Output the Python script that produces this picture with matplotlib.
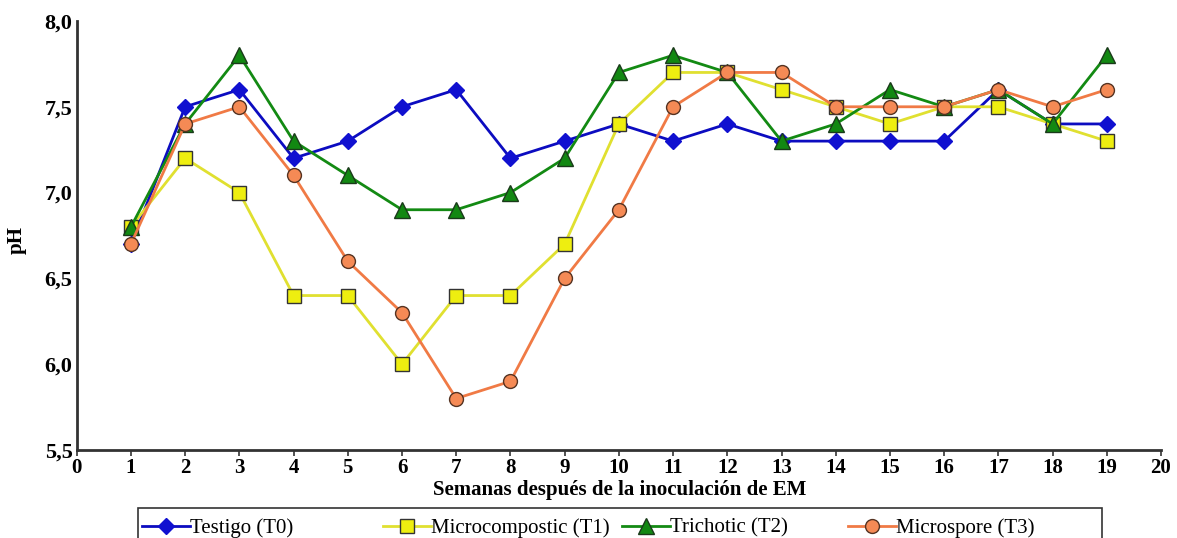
import matplotlib.pyplot as plt
from matplotlib.patches import Rectangle
from matplotlib.ticker import FuncFormatter

weeks = list(range(1, 20))

testigo = [6.7, 7.5, 7.6, 7.2, 7.3, 7.5, 7.6, 7.2, 7.3, 7.4, 7.3, 7.4, 7.3, 7.3, 7.3, 7.3, 7.6, 7.4, 7.4]
microcompostic = [6.8, 7.2, 7.0, 6.4, 6.4, 6.0, 6.4, 6.4, 6.7, 7.4, 7.7, 7.7, 7.6, 7.5, 7.4, 7.5, 7.5, 7.4, 7.3]
trichotic = [6.8, 7.4, 7.8, 7.3, 7.1, 6.9, 6.9, 7.0, 7.2, 7.7, 7.8, 7.7, 7.3, 7.4, 7.6, 7.5, 7.6, 7.4, 7.8]
microspore = [6.7, 7.4, 7.5, 7.1, 6.6, 6.3, 5.8, 5.9, 6.5, 6.9, 7.5, 7.7, 7.7, 7.5, 7.5, 7.5, 7.6, 7.5, 7.6]

labels = ["Testigo (T0)", "Microcompostic (T1)", "Trichotic (T2)", "Microspore (T3)"]

plt.rcParams["font.family"] = ["Liberation Serif", "DejaVu Serif"]

fig = plt.figure(figsize=(11.77, 5.38), dpi=100)
ax = fig.add_axes([0.0652, 0.1636, 0.9212, 0.7974])

l0, = ax.plot(weeks, testigo, color="#0c0cc0", linewidth=2, marker="D",
              markersize=8.5, markerfacecolor="#1010d0", markeredgecolor="#1010d0",
              label=labels[0])
l1, = ax.plot(weeks, microcompostic, color="#e0e030", linewidth=2, marker="s",
              markersize=10, markerfacecolor="#eeee10", markeredgecolor="#333333",
              markeredgewidth=1, label=labels[1])
l2, = ax.plot(weeks, trichotic, color="#138a13", linewidth=2, marker="^",
              markersize=11, markerfacecolor="#128812", markeredgecolor="#1a3a1a",
              markeredgewidth=1, label=labels[2])
l3, = ax.plot(weeks, microspore, color="#f07a45", linewidth=2, marker="o",
              markersize=10, markerfacecolor="#f58a55", markeredgecolor="#553322",
              markeredgewidth=1, label=labels[3])

ax.set_xlim(0, 20)
ax.set_ylim(5.5, 8.0)
ax.set_xticks(range(0, 21))
ax.set_yticks([5.5, 6.0, 6.5, 7.0, 7.5, 8.0])
ax.yaxis.set_major_formatter(FuncFormatter(lambda v, p: f"{v:.1f}".replace(".", ",")))

for s in ["top", "right"]:
    ax.spines[s].set_visible(False)
for s in ["left", "bottom"]:
    ax.spines[s].set_color("#333333")
    ax.spines[s].set_linewidth(2)

ax.tick_params(axis="x", length=4, width=1.2, color="#333333", pad=1.5, labelsize=15)
ax.tick_params(axis="y", length=0, pad=3, labelsize=16)
for t in ax.get_xticklabels() + ax.get_yticklabels():
    t.set_fontweight("bold")

ax.set_xlabel("Semanas después de la inoculación de EM", fontsize=15,
              fontweight="bold", va="center")
ax.xaxis.set_label_coords(0.501, -0.094)
ax.set_ylabel("pH", fontsize=15, fontweight="bold")
ax.yaxis.set_label_coords(-0.046, 0.49)

# legend frame, partly cut off at the bottom edge
fig.patches.append(Rectangle((138 / 1177, -0.05), (1102 - 138) / 1177, 0.05 + 30 / 538,
                             transform=fig.transFigure, fill=False,
                             edgecolor="#333333", linewidth=1.2))

# one entry per column, at fixed horizontal positions
for handle, x in zip([l0, l1, l2, l3], [142, 383, 622, 848]):
    fig.legend(handles=[handle], loc="center left",
               bbox_to_anchor=(x / 1177, 10 / 538), fontsize=15, frameon=False,
               borderpad=0, borderaxespad=0, handlelength=2.3, handletextpad=0.0)

fig.savefig("out.png", dpi=100)
